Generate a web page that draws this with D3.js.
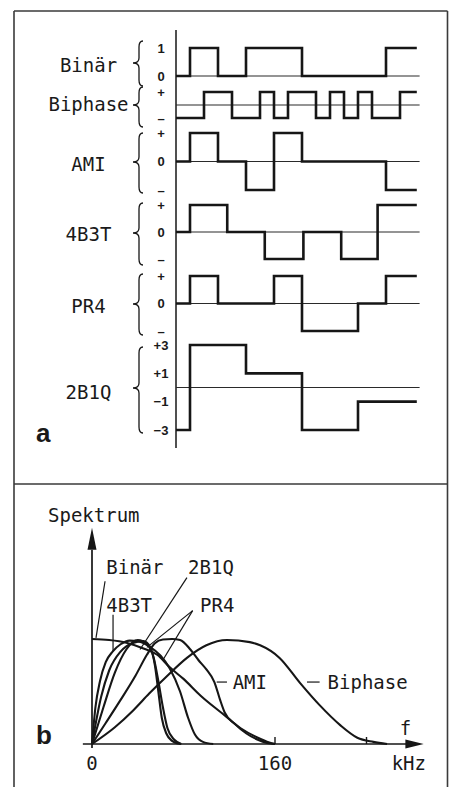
<!DOCTYPE html>
<html><head><meta charset="utf-8">
<script src="https://cdn.jsdelivr.net/npm/d3@7"></script>
<style>
html,body{margin:0;padding:0;background:#fff;}
svg{display:block;}
.mono{font-family:"DejaVu Sans Mono",monospace;font-size:19px;fill:#1a1a1a;}
.lvl{font-family:"Liberation Sans",Arial,sans-serif;font-weight:bold;font-size:13px;fill:#1a1a1a;}
.big{font-family:"Liberation Sans",Arial,sans-serif;font-weight:bold;font-size:26px;fill:#1a1a1a;}
</style></head>
<body>
<svg id="c" width="449" height="787"></svg>
<script>
// ---------- Panel a: line codes (time in bit periods, breakpoints + levels) ----------
const codeNames = ["Binär","Biphase","AMI","4B3T","PR4","2B1Q"];
const binaerT  = [-0.5, 0, 1, 2, 4, 7];
const binaerV  = [0, 1, 0, 1, 0, 1];
const biphaseT = [-0.5, 0.5, 1.5, 2.5, 3, 3.5, 4.5, 5, 5.5, 6, 6.5, 7.5];
const biphaseV = [-1, 1, -1, 1, -1, 1, -1, 1, -1, 1, -1, 1];
const amiT     = [-0.5, 0, 1, 2, 3, 4, 7];
const amiV     = [0, 1, 0, -1, 1, 0, -1];
const b43tT    = [-0.5, 0, 1.33, 2.67, 4.05, 5.4, 6.7];
const b43tV    = [0, 1, 0, -1, 0, -1, 1];
const pr4T     = [-0.5, 0, 1, 3, 4, 6, 7];
const pr4V     = [0, 1, 0, 1, -1, 0, 1];
const q2b1T    = [-0.5, 0, 2, 4, 6];
const q2b1V    = [-3, 3, 1, -3, -1];
const tEnd = 8.1, tRef = 8.2;

const binaerTicks  = ["1","0"];
const ternTicks    = ["+","0","–"];
const biphaseTicks = ["+","–"];
const q2b1Ticks    = ["+3","+1","−1","−3"];

// ---------- Panel b: spectra (f in kHz, relative amplitude) ----------
const binaerF = [0,15,30,45,57,68,80,95,114,130,145,155,160];
const binaerA = [1.0,0.99,0.965,0.91,0.85,0.73,0.62,0.46,0.29,0.15,0.06,0.015,0];
const amiF = [0,12,25,38,48,55,62,70,77,86,93,100,107,112,116,125,135,145,153,160];
const amiA = [0,0.2,0.42,0.65,0.85,0.96,0.995,1.0,0.99,0.9,0.8,0.71,0.59,0.42,0.3,0.19,0.1,0.04,0.01,0];
const biphF = [0,20,36,50,65,83,100,118,138,147,164,182,199,217,232,246,258];
const biphA = [0,0.16,0.32,0.48,0.64,0.82,0.94,0.99,0.97,0.94,0.82,0.58,0.37,0.18,0.06,0.02,0];
const b43F = [0,3,7,12,18,25,33,40,50,60,68,77,84,90,97,106];
const b43A = [0,0.35,0.6,0.78,0.88,0.95,0.985,0.98,0.93,0.84,0.72,0.5,0.25,0.09,0.02,0];
const q21F = [0,8,15,25,35,45,51,55,58,61,65,70,75,78];
const q21A = [0,0.45,0.7,0.88,0.96,0.98,0.92,0.75,0.5,0.25,0.1,0.03,0.005,0];
const pr4F = [0,10,20,30,40,48,54,58,62,66,72,78];
const pr4A = [0,0.35,0.68,0.9,0.99,0.95,0.82,0.6,0.35,0.15,0.04,0];
const freqTicks = [0,160,240];
const freqTickLabels = ["0","160",""];

// ---------- drawing ----------
const svg = d3.select("#c");
const ink = "#161616";

// frame
const frame = svg.append("g").attr("stroke","#3a3a3a").attr("stroke-width",1.6).attr("fill","none");
frame.append("line").attr("x1",14).attr("x2",447.5).attr("y1",11).attr("y2",11);
frame.append("line").attr("x1",14).attr("x2",14).attr("y1",11).attr("y2",787);
frame.append("line").attr("x1",447.5).attr("x2",447.5).attr("y1",11).attr("y2",787);
frame.append("line").attr("x1",14).attr("x2",447.5).attr("y1",484).attr("y2",484);

// time scale
const xt = d3.scaleLinear().domain([-0.5, 8]).range([176, 414]);

const rows = [
  {T:binaerT, V:binaerV, dom:[0,1], rng:[76,48], ref:0, ticks:binaerTicks, tickVals:[1,0], brace:[41,86], tip:63, labelY:72},
  {T:biphaseT, V:biphaseV, dom:[-1,1], rng:[118,92], ref:0, ticks:biphaseTicks, tickVals:[1,-1], brace:[87,127], tip:105, labelY:111},
  {T:amiT, V:amiV, dom:[-1,1], rng:[190,133], ref:0, ticks:ternTicks, tickVals:[1,0,-1], brace:[133,193], tip:162, labelY:170.5},
  {T:b43tT, V:b43tV, dom:[-1,1], rng:[259,205], ref:0, ticks:ternTicks, tickVals:[1,0,-1], brace:[203,265], tip:233, labelY:241},
  {T:pr4T, V:pr4V, dom:[-1,1], rng:[331,276], ref:0, ticks:ternTicks, tickVals:[1,0,-1], brace:[274,335], tip:304, labelY:313},
  {T:q2b1T, V:q2b1V, dom:[-3,3], rng:[430,345], ref:0, ticks:q2b1Ticks, tickVals:[3,1,-1,-3], brace:[347,433], tip:388, labelY:399}
];

// vertical time axis
svg.append("line").attr("x1",xt(-0.5)).attr("x2",xt(-0.5)).attr("y1",30).attr("y2",448)
  .attr("stroke",ink).attr("stroke-width",1.5);

rows.forEach((r,i)=>{
  const y = d3.scaleLinear().domain(r.dom).range(r.rng);
  // reference line
  svg.append("line").attr("x1",xt(-0.5)).attr("x2",xt(tRef)).attr("y1",y(r.ref)).attr("y2",y(r.ref))
    .attr("stroke","#2a2a2a").attr("stroke-width",1.1);
  // waveform
  const pts = r.T.map((t,k)=>[t, r.V[k]]).concat([[tEnd, r.V[r.V.length-1]]]);
  const line = d3.line().x(d=>xt(d[0])).y(d=>y(d[1])).curve(d3.curveStepAfter);
  svg.append("path").attr("d", line(pts)).attr("fill","none").attr("stroke",ink)
    .attr("stroke-width",2.6).attr("stroke-linejoin","miter");
  // level labels
  r.tickVals.forEach((v,k)=>{
    svg.append("text").attr("class","lvl").attr("x",161).attr("y",y(v))
      .attr("text-anchor","middle").attr("dominant-baseline","central").text(r.ticks[k]);
  });
  // brace
  const [y1,y2] = r.brace, ym = r.tip, xb = 139, xt0 = 133, xe = 143;
  const p = d3.path();
  p.moveTo(xe, y1);
  p.quadraticCurveTo(xb, y1, xb, y1+6);
  p.lineTo(xb, ym-5);
  p.quadraticCurveTo(xb, ym, xt0, ym);
  p.quadraticCurveTo(xb, ym, xb, ym+5);
  p.lineTo(xb, y2-6);
  p.quadraticCurveTo(xb, y2, xe, y2);
  svg.append("path").attr("d", p.toString()).attr("fill","none").attr("stroke",ink).attr("stroke-width",1.3);
  // name
  svg.append("text").attr("class","mono").attr("x",88.5).attr("y",r.labelY)
    .attr("text-anchor","middle").text(codeNames[i]);
});

svg.append("text").attr("class","big").attr("x",36).attr("y",442).text("a");

// ---------- Panel b ----------
const xf = d3.scaleLinear().domain([0,160]).range([92,275]);
const ya = d3.scaleLinear().domain([0,1]).range([744,639]);

// axes
svg.append("line").attr("x1",xf(0)).attr("x2",xf(0)).attr("y1",ya(1.85)).attr("y2",748)
  .attr("stroke",ink).attr("stroke-width",1.7);
svg.append("path").attr("d",`M${xf(0)},${ya(2.06)} L${xf(0)-4.5},${ya(1.85)} L${xf(0)+4.5},${ya(1.85)} Z`).attr("fill",ink);
svg.append("line").attr("x1",xf(-8)).attr("x2",xf(275)).attr("y1",ya(0)).attr("y2",ya(0))
  .attr("stroke",ink).attr("stroke-width",1.7);
svg.append("path").attr("d",`M${xf(290)},${ya(0)} L${xf(274)},${ya(0)-4.5} L${xf(274)},${ya(0)+4.5} Z`).attr("fill",ink);
freqTicks.forEach((f,k)=>{
  if (f>0) svg.append("line").attr("x1",xf(f)).attr("x2",xf(f)).attr("y1",ya(0)).attr("y2",ya(0)-7)
    .attr("stroke",ink).attr("stroke-width",1.4);
  if (freqTickLabels[k]) svg.append("text").attr("class","mono").attr("x",xf(f)).attr("y",770)
    .attr("text-anchor","middle").text(freqTickLabels[k]);
});
svg.append("text").attr("class","mono").attr("x",xf(262)).attr("y",770).text("kHz");
svg.append("text").attr("class","mono").attr("x",xf(274)).attr("y",735).attr("text-anchor","middle").text("f");
svg.append("text").attr("class","mono").attr("x",48).attr("y",522).text("Spektrum");

const curve = d3.line().x(d=>xf(d[0])).y(d=>ya(d[1])).curve(d3.curveMonotoneX);
const specs = [[binaerF,binaerA],[amiF,amiA],[biphF,biphA],[b43F,b43A],[q21F,q21A],[pr4F,pr4A]];
specs.forEach(([F,A])=>{
  svg.append("path").attr("d",curve(F.map((f,k)=>[f,A[k]]))).attr("fill","none")
    .attr("stroke",ink).attr("stroke-width",2.1).attr("stroke-linejoin","round");
});

// labels and leaders (data units)
const specLabels = [
  {t:"Binär", f:12.5, a:1.62},
  {t:"2B1Q", f:84, a:1.62},
  {t:"4B3T", f:12.5, a:1.26},
  {t:"PR4", f:94.5, a:1.26},
  {t:"AMI", f:123, a:0.52},
  {t:"Biphase", f:206, a:0.52}
];
specLabels.forEach(l=>svg.append("text").attr("class","mono").attr("x",xf(l.f)).attr("y",ya(l.a)).text(l.t));
const leaders = [
  [[11.4,1.55],[3.5,1.01]],
  [[18.4,1.23],[18.4,0.88]],
  [[83,1.585],[42,0.9]],
  [[88,1.27],[48,0.92]],
  [[88,1.27],[62,0.8]],
  [[109,0.59],[118,0.59]],
  [[188,0.59],[199,0.59]]
];
leaders.forEach(L=>svg.append("line").attr("x1",xf(L[0][0])).attr("y1",ya(L[0][1]))
  .attr("x2",xf(L[1][0])).attr("y2",ya(L[1][1])).attr("stroke",ink).attr("stroke-width",1.2));

svg.append("text").attr("class","big").attr("x",36).attr("y",744).text("b");
</script>
</body></html>
